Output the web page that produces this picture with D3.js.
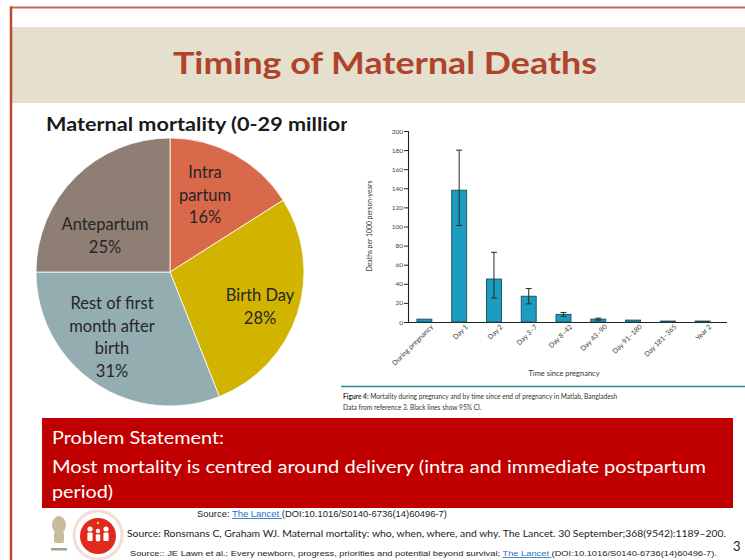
<!DOCTYPE html>
<html><head><meta charset="utf-8">
<script src="https://cdn.jsdelivr.net/npm/d3@7/dist/d3.min.js"></script>
<style>html,body{margin:0;padding:0;background:#fff;}svg{display:block;}</style>
</head><body>
<script>
// ---- data ----
const pieLabels = [["Intra","partum","16%"],["Birth Day","28%"],["Rest of first","month after","birth","31%"],["Antepartum","25%"]];
const pieNames = ["Intra partum","Birth Day","Rest of first month after birth","Antepartum"];
const pieValues = [16, 28, 31, 25];
const pieColors = ["#d9694b","#d1b400","#93adb0","#8e7e73"];

const barCats = ["During pregnancy","Day 1","Day 2","Day 3–7","Day 8–42","Day 43–90","Day 91–180","Day 181–365","Year 2"];
const barValues = [3, 138, 45, 27, 8, 3, 2, 1, 1];
const ciLow  = [null, 101, 25, 19, 6, 2, null, null, null];
const ciHigh = [null, 180, 73, 35, 10, 4, null, null, null];
const yTicks = [0,20,40,60,80,100,120,140,160,180,200];

const W = 745, H = 560;
const svg = d3.select("body").append("svg").attr("width", W).attr("height", H);

// ---- slide frame ----
svg.append("rect").attr("x",12).attr("y",27).attr("width",W-12).attr("height",76).attr("fill","#e4e0cd");
svg.append("line").attr("x1",10).attr("x2",W).attr("y1",7.5).attr("y2",7.5).attr("stroke","#c9694f").attr("stroke-width",2);
svg.append("line").attr("x1",11).attr("x2",11).attr("y1",6.5).attr("y2",H).attr("stroke","#b84a30").attr("stroke-width",2.5);
svg.append("text").attr("x",385).attr("y",74).attr("text-anchor","middle")
  .attr("font-family","Lato").attr("font-weight","bold").attr("font-size",31).attr("fill","#b0432b")
  .attr("textLength",424).attr("lengthAdjust","spacingAndGlyphs")
  .text("Timing of Maternal Deaths");

// ---- pie ----
const defs = svg.append("defs");
defs.append("clipPath").attr("id","subclip").append("rect").attr("x",0).attr("y",100).attr("width",347).attr("height",40);
svg.append("g").attr("clip-path","url(#subclip)")
  .append("text").attr("x",46).attr("y",131)
  .attr("font-family","Lato").attr("font-weight","bold").attr("font-size",18.5).attr("fill","#1a1a1a")
  .attr("textLength",312).attr("lengthAdjust","spacingAndGlyphs")
  .text("Maternal mortality (0-29 million)");

const cx = 170, cy = 272, R = 134;
const pie = d3.pie().sort(null).value(d => d)(pieValues);
const arc = d3.arc().innerRadius(0).outerRadius(R);
const pg = svg.append("g").attr("transform",`translate(${cx},${cy})`);
pg.selectAll("path").data(pie).join("path").attr("d",arc)
  .attr("fill",(d,i)=>pieColors[i]).attr("stroke","#ffffff").attr("stroke-width",0.8);

const labelPos = [[205,172,22.5],[260,295,23],[112,303,22.6],[105,224,23]];
pieLabels.forEach((lines,i)=>{
  const [lx,ly,lh] = labelPos[i];
  const t = svg.append("text").attr("text-anchor","middle").attr("font-family","Lato")
    .attr("font-size",16.5).attr("fill","#262626");
  lines.forEach((s,j)=>t.append("tspan").attr("x",lx).attr("y",ly+6+j*lh).text(s));
});

// ---- bar chart ----
const y = d3.scaleLinear().domain([0,200]).range([322,131]);
const x = d3.scaleBand().domain(barCats).range([407,720]).paddingInner(0.57).paddingOuter(0.285);
const bg = svg.append("g");

const yAxis = d3.axisLeft(y).tickValues(yTicks).tickSize(4).tickPadding(1);
const yg = bg.append("g").attr("transform","translate(408,0)").call(yAxis);
yg.select(".domain").attr("stroke","#222").attr("stroke-width",1.1);
yg.selectAll(".tick line").attr("stroke","#222");
yg.selectAll(".tick text").attr("font-family","Lato").attr("font-size",6.5).attr("fill","#444");

const xg = bg.append("g").attr("transform","translate(0,322)").call(d3.axisBottom(x).tickSize(0).tickPadding(5));
xg.select(".domain").remove();
xg.append("line").attr("x1",408).attr("x2",727).attr("y1",0.5).attr("y2",0.5).attr("stroke","#222").attr("stroke-width",1.1);
xg.selectAll(".tick text").attr("font-family","Lato").attr("font-size",7).attr("fill","#444")
  .attr("text-anchor","end").attr("transform","translate(4,0) rotate(-45)").attr("dy","0.35em").attr("dx","0");

bg.selectAll("rect.bar").data(barValues).join("rect").attr("class","bar")
  .attr("x",(d,i)=>x(barCats[i])).attr("width",x.bandwidth())
  .attr("y",d=>y(d)).attr("height",d=>y(0)-y(d))
  .attr("fill","#1a9dc0").attr("stroke","#1d4b58").attr("stroke-width",0.9);

barCats.forEach((c,i)=>{
  if (ciLow[i]==null) return;
  const xc = x(c)+x.bandwidth()/2;
  const g = bg.append("g").attr("stroke","#2a2a2a").attr("stroke-width",1);
  g.append("line").attr("x1",xc).attr("x2",xc).attr("y1",y(ciLow[i])).attr("y2",y(ciHigh[i]));
  g.append("line").attr("x1",xc-3).attr("x2",xc+3).attr("y1",y(ciLow[i])).attr("y2",y(ciLow[i]));
  g.append("line").attr("x1",xc-3).attr("x2",xc+3).attr("y1",y(ciHigh[i])).attr("y2",y(ciHigh[i]));
});

bg.append("text").attr("transform","translate(372,226) rotate(-90)").attr("text-anchor","middle")
  .attr("font-family","Lato").attr("font-size",6.8).attr("fill","#333").text("Deaths per 1000 person-years");
bg.append("text").attr("x",564).attr("y",376).attr("text-anchor","middle")
  .attr("font-family","Lato").attr("font-size",7.5).attr("fill","#333").text("Time since pregnancy");

svg.append("line").attr("x1",341).attr("x2",W).attr("y1",386.5).attr("y2",386.5).attr("stroke","#2b8a8c").attr("stroke-width",1.3);
const cap = svg.append("text").attr("font-family","Lato").attr("font-size",6.6).attr("fill","#333");
cap.append("tspan").attr("x",343).attr("y",399).attr("font-weight","bold").text("Figure 4:");
cap.append("tspan").text(" Mortality during pregnancy and by time since end of pregnancy in Matlab, Bangladesh");
svg.append("text").attr("x",343).attr("y",410).attr("font-family","Lato").attr("font-size",6.6).attr("fill","#333")
  .text("Data from reference 3. Black lines show 95% CI.");

// ---- problem statement ----
svg.append("rect").attr("x",42).attr("y",418).attr("width",691).attr("height",90).attr("fill","#c00000");
const ps = svg.append("g").attr("font-family","Lato").attr("font-size",17.5).attr("fill","#ffffff");
ps.append("text").attr("x",52).attr("y",444).attr("textLength",172).attr("lengthAdjust","spacingAndGlyphs").text("Problem Statement:");
ps.append("text").attr("x",52).attr("y",473).attr("textLength",654).attr("lengthAdjust","spacingAndGlyphs")
  .text("Most mortality is centred around delivery (intra and immediate postpartum");
ps.append("text").attr("x",52).attr("y",498).attr("textLength",61).attr("lengthAdjust","spacingAndGlyphs").text("period)");

// ---- logos ----
const em = svg.append("g").attr("fill","#c9bb9c");
em.append("ellipse").attr("cx",59).attr("cy",525).attr("rx",7).attr("ry",9);
em.append("rect").attr("x",54).attr("y",532).attr("width",10).attr("height",11).attr("rx",2);
em.append("rect").attr("x",51).attr("y",548).attr("width",16).attr("height",2.5).attr("fill","#9aa88a");
const nhm = svg.append("g");
nhm.append("circle").attr("cx",98).attr("cy",535).attr("r",24).attr("fill","none").attr("stroke","#f4dcd8").attr("stroke-width",3);
nhm.append("circle").attr("cx",98).attr("cy",536).attr("r",18).attr("fill","#e0291b");
const fig = nhm.append("g").attr("fill","#ffffff");
[[90,529,2.6],[98,531,2.2],[106,529,2.6]].forEach(([fx,fy,r])=>{
  fig.append("circle").attr("cx",fx).attr("cy",fy).attr("r",r);
  fig.append("rect").attr("x",fx-r).attr("y",fy+r+1).attr("width",r*2).attr("height",r*3.2).attr("rx",1);
});
nhm.append("path").attr("d","M98 521 l1.5 3 l-3 0 z").attr("fill","#ffd24d");

// ---- sources ----
const src1 = svg.append("text").attr("x",197).attr("y",517).attr("font-family","Liberation Sans").attr("font-size",8.5).attr("fill","#222")
  .attr("textLength",250).attr("lengthAdjust","spacingAndGlyphs");
src1.append("tspan").text("Source: ");
src1.append("tspan").attr("fill","#1f6fc6").attr("text-decoration","underline").text("The Lancet ");
src1.append("tspan").text(" (DOI:10.1016/S0140-6736(14)60496-7)");

svg.append("text").attr("x",127).attr("y",537).attr("font-family","Lato").attr("font-size",8.6).attr("fill","#222")
  .attr("textLength",599).attr("lengthAdjust","spacingAndGlyphs")
  .text("Source: Ronsmans C, Graham WJ. Maternal mortality: who, when, where, and why. The Lancet. 30 September;368(9542):1189–200.");

const src3 = svg.append("text").attr("x",130).attr("y",556).attr("font-family","Liberation Sans").attr("font-size",8).attr("fill","#222")
  .attr("textLength",587).attr("lengthAdjust","spacingAndGlyphs");
src3.append("tspan").text("Source:: JE Lawn et al.; Every newborn, progress, priorities and potential beyond survival; ");
src3.append("tspan").attr("fill","#1f6fc6").attr("text-decoration","underline").text("The Lancet ");
src3.append("tspan").text(" (DOI:10.1016/S0140-6736(14)60496-7).");
svg.append("text").attr("x",733).attr("y",551).attr("font-family","Lato").attr("font-size",13).attr("fill","#222").text("3");
</script>
</body></html>
